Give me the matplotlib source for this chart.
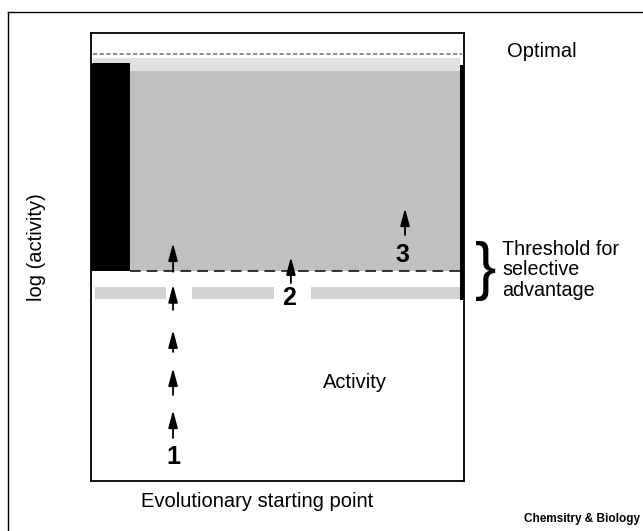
import matplotlib.pyplot as plt
from matplotlib.lines import Line2D

plt.rcParams['font.family'] = ['Liberation Sans', 'DejaVu Sans']

# levels on the log(activity) scale (0-10)
optimal_level = 9.53
threshold_level = 4.69
gray_top = 9.15
haze_top = 9.45
dark_band = (0.0, 1.05, 4.69, 9.33)      # x0, x1, y0, y1
right_band = (9.89, 10.0, 4.04, 9.29)
lower_strip = [(0.1, 2.0), (2.7, 4.9), (5.9, 9.9)]
strip_y = (4.06, 4.33)

# evolutionary paths: (x, tail, head)
path1 = [(2.2, 0.96, 1.58), (2.2, 1.92, 2.52), (2.2, 2.88, 3.37),
         (2.2, 3.82, 4.38), (2.2, 4.67, 5.31)]
path2 = [(5.36, 4.42, 5.0)]
path3 = [(8.42, 5.49, 6.09)]
labels = ["1", "2", "3"]
label_pos = [(2.2, 0.54), (5.32, 4.08), (8.35, 5.04)]

fig = plt.figure(figsize=(6.43, 5.31), dpi=100)
ax = fig.add_axes([0.1415, 0.0942, 0.580, 0.8437])
ax.set_xlim(0, 10)
ax.set_ylim(0, 10)
ax.set_xticks([])
ax.set_yticks([])
for s in ax.spines.values():
    s.set_linewidth(1.3)

# shaded region above threshold
ax.fill_between([dark_band[1], right_band[0]], threshold_level, gray_top,
                color='#c0c0c0', lw=0)
ax.fill_between([0.05, right_band[0]], gray_top, haze_top,
                color='#e0e0e0', lw=0)
ax.fill_between([dark_band[0], dark_band[1]], dark_band[2], dark_band[3],
                color='black', lw=0)
ax.fill_between([right_band[0], right_band[1]], right_band[2], right_band[3],
                color='black', lw=0)
for x0, x1 in lower_strip:
    ax.fill_between([x0, x1], strip_y[0], strip_y[1], color='#d2d2d2', lw=0)

# optimal and threshold lines
ax.plot([0.05, 9.95], [optimal_level, optimal_level], color='#777777',
        lw=1.2, ls=(0, (2.5, 1.5)))
ax.plot([dark_band[1], 10], [threshold_level, threshold_level], color='black',
        lw=1.1, ls=(0, (7, 4)))

# arrows
for x, y0, y1 in path1 + path2 + path3:
    ax.annotate('', xy=(x, y1), xytext=(x, y0),
                arrowprops=dict(arrowstyle='-|>,head_width=0.2,head_length=0.75',
                                color='black', lw=1.3,
                                mutation_scale=14, shrinkA=0, shrinkB=0))

for lab, (x, y) in zip(labels, label_pos):
    ax.text(x, y, lab, ha='center', va='center', fontsize=18,
            fontweight='bold')

ax.text(7.08, 2.19, 'Activity', ha='center', va='center', fontsize=14.5)
ax.text(4.45, -0.45, 'Evolutionary starting point', ha='center',
        va='center', fontsize=14.5, clip_on=False)
ax.text(-1.45, 5.22, 'log (activity)', ha='center', va='center',
        fontsize=14.5, rotation=90, clip_on=False)
ax.text(11.15, optimal_level + 0.05, 'Optimal', ha='left', va='center',
        fontsize=14.5, clip_on=False)
ax.text(10.58, threshold_level, '}', ha='center', va='center',
        fontsize=46, fontweight='light', clip_on=False)
ax.text(11.02, threshold_level + 0.02, 'Threshold for\nselective\nadvantage',
        ha='left', va='center', fontsize=14.2, linespacing=1.1, clip_on=False)

fig.text(0.995, 0.022, 'Chemsitry & Biology', ha='right', va='center',
         fontsize=8.5, fontweight='bold')

# outer frame
fig.add_artist(Line2D([8 / 643, 8 / 643], [0, 1 - 12 / 531], color='black',
                      lw=1.0, transform=fig.transFigure))
fig.add_artist(Line2D([8 / 643, 1], [1 - 12 / 531, 1 - 12 / 531],
                      color='black', lw=1.0, transform=fig.transFigure))

fig.savefig('out.png', dpi=100)
